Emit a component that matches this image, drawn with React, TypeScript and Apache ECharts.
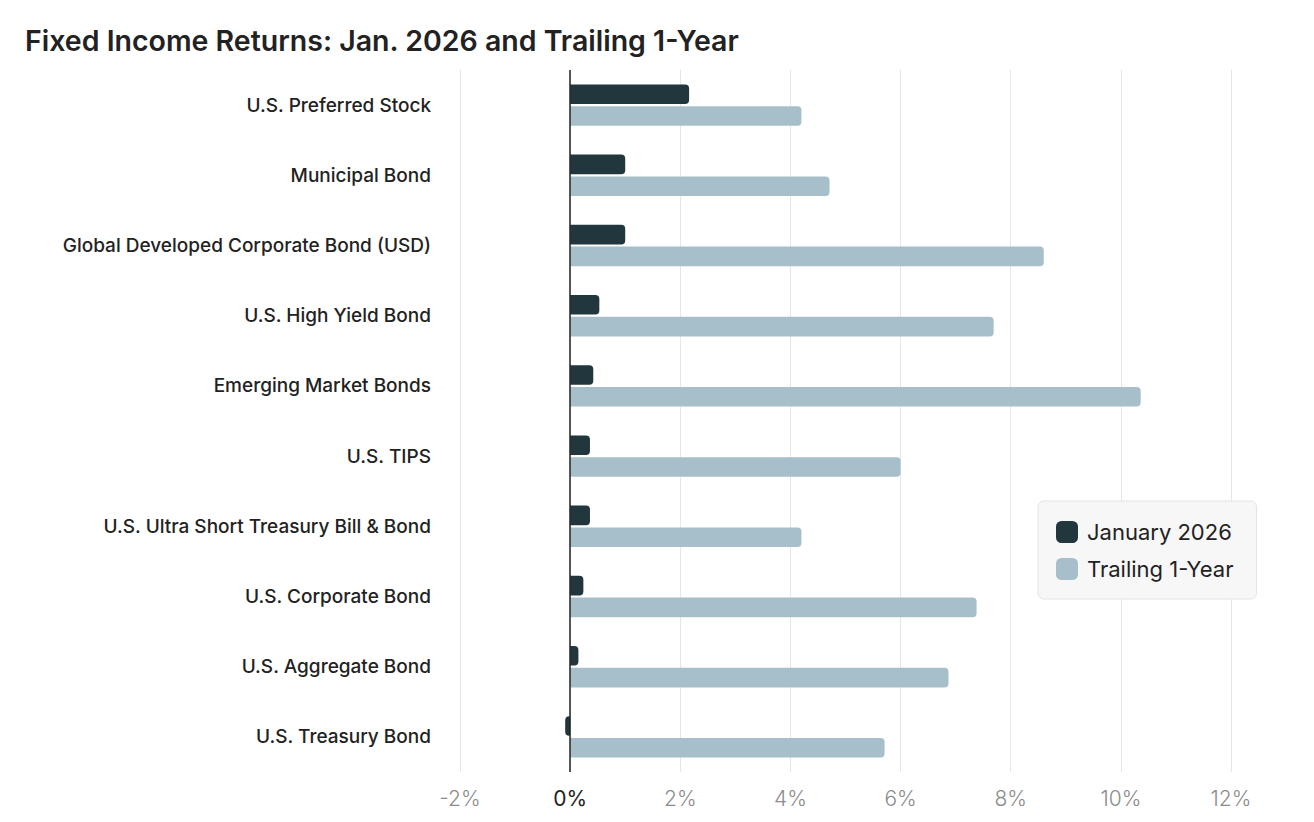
import React, { useEffect, useRef } from "react";
import * as echarts from "echarts";

const categories = [
  "U.S. Preferred Stock",
  "Municipal Bond",
  "Global Developed Corporate Bond (USD)",
  "U.S. High Yield Bond",
  "Emerging Market Bonds",
  "U.S. TIPS",
  "U.S. Ultra Short Treasury Bill & Bond",
  "U.S. Corporate Bond",
  "U.S. Aggregate Bond",
  "U.S. Treasury Bond",
];
const january2026 = [2.16, 1.0, 1.0, 0.53, 0.42, 0.36, 0.36, 0.24, 0.15, -0.09];
const trailing1Y = [4.2, 4.71, 8.6, 7.69, 10.36, 6.0, 4.2, 7.38, 6.87, 5.71];
const seriesNames = ["January 2026", "Trailing 1-Year"];
const xTicks = { min: -2, max: 12, interval: 2 };

const DARK = "#21363d";
const LIGHT = "#a7bfca";

function toItems(vals: number[]) {
  return vals.map((v) => ({
    value: v,
    itemStyle: { borderRadius: v < 0 ? [4, 0, 0, 4] : [0, 4, 4, 0] },
  }));
}

export default function App() {
  const ref = useRef<HTMLDivElement>(null);
  useEffect(() => {
    document.body.style.margin = "0";
    const chart = echarts.init(ref.current!, null, { renderer: "svg" });
    chart.setOption({
      animation: false,
      backgroundColor: "#ffffff",
      title: {
        text: "Fixed Income Returns: Jan. 2026 and Trailing 1-Year",
        left: 20,
        top: 21,
        textStyle: {
          fontFamily: "Inter",
          fontSize: 28.5,
          fontWeight: 600,
          color: "#222222",
        },
      },
      legend: {
        orient: "vertical",
        left: 1038,
        top: 501,
        padding: [20, 23, 19, 18],
        itemWidth: 22,
        itemHeight: 22,
        itemGap: 15,
        icon: "roundRect",
        backgroundColor: "#f7f7f7",
        borderColor: "#e4e4e4",
        borderWidth: 1,
        borderRadius: 6,
        textStyle: { fontFamily: "Inter", fontSize: 22, color: "#222222", padding: [0, 0, 0, 4] },
        data: seriesNames,
      },
      grid: { left: 460, right: 83, top: 70, bottom: 50, containLabel: false },
      xAxis: {
        type: "value",
        min: xTicks.min,
        max: xTicks.max,
        interval: xTicks.interval,
        axisLine: { show: false },
        axisTick: { show: false },
        splitLine: { show: true, lineStyle: { color: "#e6e6e6", width: 1 } },
        axisLabel: {
          formatter: (v: number) => (v === 0 ? `{z|${v}%}` : `${v}%`),
          margin: 16,
          fontFamily: "Inter",
          fontSize: 21,
          fontWeight: 300,
          color: "#8c8c8c",
          rich: {
            z: { fontFamily: "Inter", fontSize: 21, fontWeight: 400, color: "#222222" },
          },
        },
      },
      yAxis: {
        type: "category",
        inverse: true,
        data: categories,
        axisLine: { show: false },
        axisTick: { show: false },
        axisLabel: {
          margin: 29,
          fontFamily: "Inter",
          fontSize: 19,
          fontWeight: 500,
          color: "#222222",
          padding: [0, 0, 2, 0],
        },
      },
      series: [
        {
          name: seriesNames[0],
          type: "bar",
          data: toItems(january2026),
          itemStyle: { color: DARK },
          barGap: "11%",
          barCategoryGap: "41%",
          markLine: {
            silent: true,
            symbol: ["none", "none"],
            label: { show: false },
            lineStyle: { color: "#222222", width: 1.5, type: "solid" },
            data: [{ xAxis: 0 }],
          },
        },
        {
          name: seriesNames[1],
          type: "bar",
          data: toItems(trailing1Y),
          itemStyle: { color: LIGHT },
          barGap: "11%",
          barCategoryGap: "41%",
        },
      ],
    });
    return () => chart.dispose();
  }, []);
  return <div ref={ref} style={{ width: 1314, height: 822 }} />;
}
